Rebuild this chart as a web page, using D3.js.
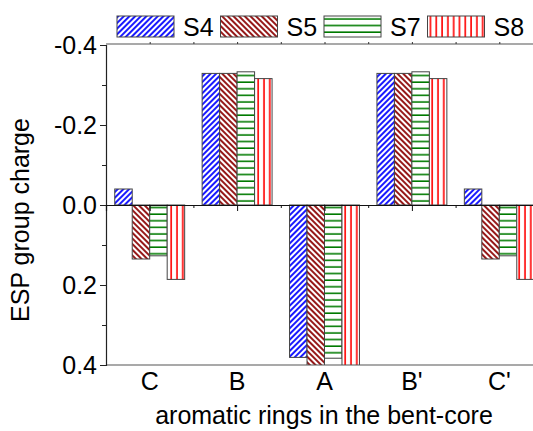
<!DOCTYPE html>
<html>
<head>
<meta charset="utf-8">
<script src="https://cdn.jsdelivr.net/npm/d3@7"></script>
<style>
  body { margin: 0; background: #fff; }
  svg { display: block; font-family: "Liberation Sans", Arial, sans-serif; }
</style>
</head>
<body>
<div id="chart-area"></div>
<script>
const categories = ["C", "B", "A", "B'", "C'"];
const seriesNames = ["S4", "S5", "S7", "S8"];
const s4 = [-0.040, -0.329, 0.381, -0.329, -0.040];
const s5 = [0.135, -0.329, 0.410, -0.329, 0.135];
const s7 = [0.127, -0.333, 0.383, -0.333, 0.127];
const s8 = [0.186, -0.316, 0.410, -0.316, 0.186];
const yTicks = [-0.4, -0.2, 0.0, 0.2, 0.4];
const yMinorTicks = [-0.3, -0.1, 0.1, 0.3];

const allSeries = [s4, s5, s7, s8];
const fills = ["url(#hatch-s4)", "url(#hatch-s5)", "url(#hatch-s7)", "url(#hatch-s8)"];

const width = 533, height = 431;
const plot = { left: 106, top: 44, bottom: 365, right: 543 };
const fontSize = 25;

const svg = d3.select("#chart-area")
    .append("svg")
    .attr("width", width)
    .attr("height", height);

// hatch patterns
const defs = svg.append("defs");

function diagonal(id, color, angle) {
    const p = defs.append("pattern")
        .attr("id", id)
        .attr("patternUnits", "userSpaceOnUse")
        .attr("width", 4)
        .attr("height", 4)
        .attr("patternTransform", `rotate(${angle})`);
    p.append("rect").attr("width", 4).attr("height", 4).attr("fill", "#fff");
    p.append("line")
        .attr("x1", 1).attr("y1", -1).attr("x2", 1).attr("y2", 6)
        .attr("stroke", color).attr("stroke-width", 1.8);
}
diagonal("hatch-s4", "#0000ff", 45);
diagonal("hatch-s5", "#8b0000", -45);

const ph = defs.append("pattern")
    .attr("id", "hatch-s7")
    .attr("patternUnits", "userSpaceOnUse")
    .attr("width", 10).attr("height", 6.6);
ph.append("rect").attr("width", 10).attr("height", 6.6).attr("fill", "#fff");
ph.append("line").attr("x1", 0).attr("x2", 10).attr("y1", 3).attr("y2", 3)
    .attr("stroke", "#007a00").attr("stroke-width", 1.6);

const pv = defs.append("pattern")
    .attr("id", "hatch-s8")
    .attr("patternUnits", "userSpaceOnUse")
    .attr("width", 5.8).attr("height", 10);
pv.append("rect").attr("width", 5.8).attr("height", 10).attr("fill", "#fff");
pv.append("line").attr("x1", 3).attr("x2", 3).attr("y1", 0).attr("y2", 10)
    .attr("stroke", "#ff0000").attr("stroke-width", 1.6);

defs.append("clipPath").attr("id", "plot-clip")
    .append("rect")
    .attr("x", plot.left).attr("y", plot.top)
    .attr("width", plot.right - plot.left).attr("height", plot.bottom - plot.top);

const x = d3.scaleLinear().domain([0.5, categories.length + 0.5]).range([plot.left, plot.right]);
const y = d3.scaleLinear().domain([-0.4, 0.4]).range([plot.top + 1, plot.bottom]);
const barW = 0.2;

// bars
const bars = svg.append("g").attr("clip-path", "url(#plot-clip)");
allSeries.forEach((vals, si) => {
    bars.selectAll(`.bar-s${si}`)
        .data(vals)
        .enter().append("rect")
        .attr("class", `bar-s${si}`)
        .attr("x", (d, i) => x(i + 1 - 2 * barW + si * barW))
        .attr("width", x(barW) - x(0))
        .attr("y", d => Math.min(y(d), y(0)))
        .attr("height", d => Math.abs(y(d) - y(0)))
        .attr("fill", fills[si])
        .attr("stroke", "#444")
        .attr("stroke-width", 1);
});

// frame lines
svg.append("line").attr("x1", plot.left).attr("x2", width).attr("y1", plot.top).attr("y2", plot.top)
    .attr("stroke", "#555").attr("stroke-width", 1.2);
svg.append("line").attr("x1", plot.left).attr("x2", width).attr("y1", plot.bottom).attr("y2", plot.bottom)
    .attr("stroke", "#555").attr("stroke-width", 1.2);

// y axis
const yAxis = d3.axisLeft(y).tickValues(yTicks).tickSize(6).tickPadding(3)
    .tickFormat(d => d3.format(".1f")(d).replace("\u2212", "-"));
const gy = svg.append("g").attr("transform", `translate(${plot.left},0)`).call(yAxis);
gy.select(".domain").attr("stroke", "#222").attr("stroke-width", 1.2);
gy.selectAll(".tick line").attr("stroke", "#222");
gy.selectAll("text").attr("font-size", fontSize).attr("fill", "#000")
    .attr("font-family", "'Liberation Sans', Arial, sans-serif");
const yMinor = d3.axisLeft(y).tickValues(yMinorTicks).tickFormat("").tickSize(4);
const gym = svg.append("g").attr("transform", `translate(${plot.left},0)`).call(yMinor);
gym.select(".domain").remove();
gym.selectAll(".tick line").attr("stroke", "#222");

// zero x axis with ticks pointing down
const catIdx = categories.map((c, i) => i + 1);
const xMajor = d3.axisBottom(x).tickValues(catIdx).tickFormat("").tickSize(6);
const gx = svg.append("g").attr("transform", `translate(0,${y(0)})`).call(xMajor);
gx.select(".domain").attr("stroke", "#111").attr("stroke-width", 1.2);
gx.selectAll(".tick line").attr("stroke", "#111");
const xMinor = d3.axisBottom(x).tickValues(catIdx.slice(0, -1).map(v => v + 0.5)).tickFormat("").tickSize(3);
const gxm = svg.append("g").attr("transform", `translate(0,${y(0)})`).call(xMinor);
gxm.select(".domain").remove();
gxm.selectAll(".tick line").attr("stroke", "#111");

// small ticks on the top border
const xTop = d3.axisTop(x).tickValues(catIdx.concat(catIdx.slice(0, -1).map(v => v + 0.5))).tickFormat("").tickSize(2);
const gxt = svg.append("g").attr("transform", `translate(0,${plot.top})`).call(xTop);
gxt.select(".domain").remove();
gxt.selectAll(".tick line").attr("stroke", "#333");

// category labels under the plot
svg.append("g").selectAll("text")
    .data(categories)
    .enter().append("text")
    .attr("x", (d, i) => x(i + 1))
    .attr("y", plot.bottom + 25)
    .attr("text-anchor", "middle")
    .attr("font-size", fontSize)
    .text(d => d);

// axis titles
svg.append("text")
    .attr("x", 324)
    .attr("y", 424)
    .attr("text-anchor", "middle")
    .attr("font-size", fontSize)
    .text("aromatic rings in the bent-core");

svg.append("text")
    .attr("transform", "rotate(-90)")
    .attr("x", -220)
    .attr("y", 29)
    .attr("text-anchor", "middle")
    .attr("font-size", fontSize)
    .text("ESP group charge");

// legend
const legend = svg.append("g").selectAll(".legend-item")
    .data(seriesNames)
    .enter().append("g")
    .attr("class", "legend-item")
    .attr("transform", (d, i) => `translate(${117 + i * 103.5},16)`);
legend.append("rect")
    .attr("width", 57).attr("height", 21)
    .attr("fill", (d, i) => fills[i])
    .attr("stroke", "#444").attr("stroke-width", 1);
legend.append("text")
    .attr("x", 66).attr("y", 20)
    .attr("font-size", fontSize)
    .text(d => d);
</script>
</body>
</html>
